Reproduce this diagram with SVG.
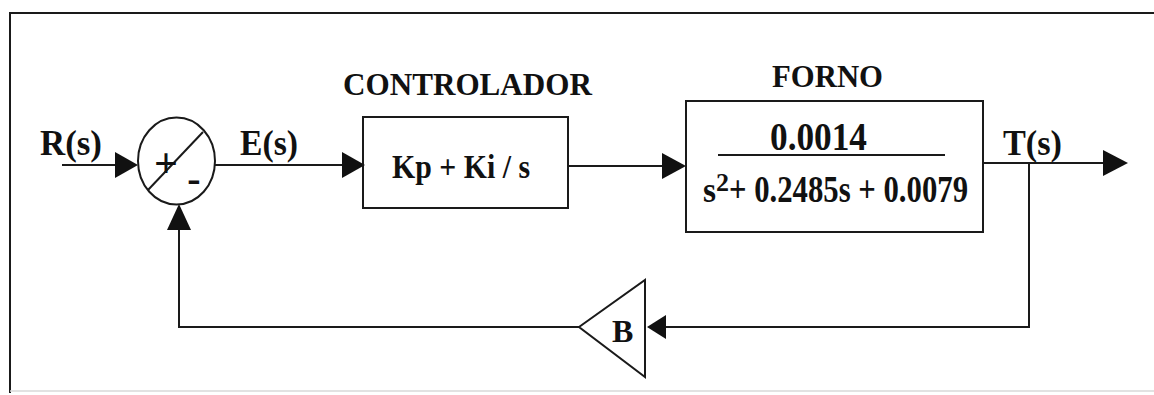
<svg xmlns="http://www.w3.org/2000/svg" width="1154" height="395" viewBox="0 0 1154 395">
<style>
text{font-family:"Liberation Serif","Times New Roman",serif;font-weight:bold;fill:#111}
.ln{fill:none;stroke:#1a1a1a;stroke-width:2}
.ah{fill:#111;stroke:none}
</style>
<rect width="1154" height="395" fill="#fff"/>
<g id="frame">
<path d="M10,393 V13 H1154" class="ln"/>
<path d="M10,391 H1154" fill="none" stroke="#d8d8d8" stroke-width="1.5"/>
</g>
<g id="connectors">
<path class="ln" d="M62,165 H118"/>
<polygon class="ah" points="115,152 138,165 115,178"/>
<path class="ln" d="M215,165 H345"/>
<polygon class="ah" points="342,152 365,165 342,178"/>
<path class="ln" d="M568,166 H665"/>
<polygon class="ah" points="662,153 686,166 662,179"/>
<path class="ln" d="M983,163 H1106"/>
<polygon class="ah" points="1103,150 1128,163 1103,176"/>
<path class="ln" d="M1029,163 V327 H664"/>
<polygon class="ah" points="666,315 647,327 666,339"/>
<path class="ln" d="M579,327 H179 V228"/>
<polygon class="ah" points="167,230 179,204 191,230"/>
</g>
<g id="input">
<text x="40" y="155" font-size="35" textLength="62" lengthAdjust="spacingAndGlyphs">R(s)</text>
</g>
<g id="sum">
<ellipse cx="176.5" cy="161" rx="38.5" ry="43.5" class="ln"/>
<line x1="148" y1="190" x2="203" y2="132" class="ln"/>
<text x="166" y="177" font-size="42" text-anchor="middle">+</text>
<text x="194" y="192" font-size="40" text-anchor="middle">-</text>
</g>
<g id="error">
<text x="240" y="155" font-size="35" textLength="58" lengthAdjust="spacingAndGlyphs">E(s)</text>
</g>
<g id="controller">
<text x="343" y="95" font-size="31" textLength="249" lengthAdjust="spacingAndGlyphs">CONTROLADOR</text>
<rect x="363" y="117" width="205" height="91" class="ln"/>
<text x="392" y="178" font-size="34" textLength="138" lengthAdjust="spacingAndGlyphs">Kp + Ki / s</text>
</g>
<g id="forno">
<text x="772" y="87" font-size="31" textLength="111" lengthAdjust="spacingAndGlyphs">FORNO</text>
<rect x="686" y="101" width="297" height="131" class="ln"/>
<text x="770" y="150" font-size="40" textLength="97" lengthAdjust="spacingAndGlyphs">0.0014</text>
<line x1="718" y1="155" x2="945" y2="155" class="ln"/>
<text x="703" y="202" font-size="36" textLength="13" lengthAdjust="spacingAndGlyphs">s</text>
<text x="716" y="191" font-size="26">2</text>
<text x="729" y="202" font-size="38" textLength="239" lengthAdjust="spacingAndGlyphs">+ 0.2485s + 0.0079</text>
</g>
<g id="output">
<text x="1003" y="155" font-size="35" textLength="59" lengthAdjust="spacingAndGlyphs">T(s)</text>
</g>
<g id="gain">
<polygon points="579,327 645,280 645,377" class="ln"/>
<text x="612" y="342" font-size="32">B</text>
</g>
</svg>
